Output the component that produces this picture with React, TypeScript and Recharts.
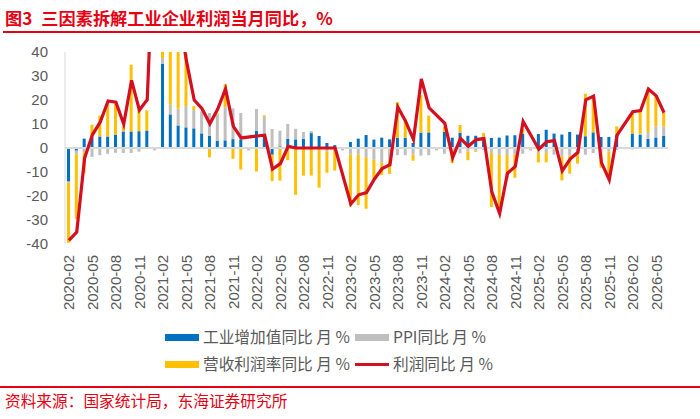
import {
  ComposedChart,
  Bar,
  Line,
  XAxis,
  YAxis,
  ReferenceLine,
} from "recharts";

const months = [
  "2020-02", "2020-03", "2020-04", "2020-05", "2020-06", "2020-07", "2020-08", "2020-09", "2020-10", "2020-11", "2020-12",
  "2021-01", "2021-02", "2021-03", "2021-04", "2021-05", "2021-06", "2021-07", "2021-08", "2021-09", "2021-10", "2021-11", "2021-12",
  "2022-01", "2022-02", "2022-03", "2022-04", "2022-05", "2022-06", "2022-07", "2022-08", "2022-09", "2022-10", "2022-11", "2022-12",
  "2023-01", "2023-02", "2023-03", "2023-04", "2023-05", "2023-06", "2023-07", "2023-08", "2023-09", "2023-10", "2023-11", "2023-12",
  "2024-01", "2024-02", "2024-03", "2024-04", "2024-05", "2024-06", "2024-07", "2024-08", "2024-09", "2024-10", "2024-11", "2024-12",
  "2025-01", "2025-02", "2025-03", "2025-04", "2025-05", "2025-06", "2025-07", "2025-08", "2025-09", "2025-10", "2025-11", "2025-12",
  "2026-01", "2026-02", "2026-03", "2026-04", "2026-05", "2026-06",
];

// 工业增加值同比
const valueAdded = [
  -14, -1.1, 3.9, 4.4, 4.8, 4.8, 5.6, 6.9, 6.9, 7.0, 7.3,
  null, 35, 14, 9.4, 8.6, 8.2, 6.1, 5.1, 3.0, 3.2, 3.7, 3.6,
  null, 7.2, 5.0, -2.8, 0.7, 3.8, 3.6, 3.8, 6.2, 5.0, 2.1, 1.2,
  null, 2.5, 3.9, 5.4, 3.5, 4.3, 3.6, 4.3, 4.3, 2.1, 6.4, 6.5,
  null, 6.8, 4.3, 6.4, 5.1, 5.1, 4.7, 4.2, 4.3, 5.2, 5.3, 5.9,
  null, 5.8, 7.6, 6.0, 5.6, 6.7, 5.6, 4.9, 6.5, 4.6, 4.6, 5.5,
  null, 6.0, 5.6, 3.8, 4.4, 5.1,
];

// PPI同比
const ppi = [
  -0.5, -1.5, -2, -3.7, -3, -2.4, -2, -2.1, -2.1, -1.5, -0.4,
  -1, 2.5, 4, 7, 8.8, 7.6, 9.2, 9.5, 10.9, 13.8, 12.8, 11,
  -1, 9, 8, 7.9, 6.5, 6.2, 4.4, 2.9, 0.9, -0.5, -1.3, -0.8,
  -1, -2.8, -2.8, -3.8, -4.9, -6.2, -5, -3, -3, -2.8, -3.2, -3,
  -1, -2.4, -0.8, -2.2, -1.4, -1.1, -0.8, -2.1, -2.8, -2.9, -2.7, -2.4,
  -1, -2.1, -2.1, -2.8, -3.5, -3.2, -2.8, -2.8, -2.1, -2, -1.5, -0.8,
  -0.5, -0.6, 0.3, 2.8, 4.6, 3.9,
];

// 营收利润率同比
const margin = [
  -25, -27, -8.5, 5.3, 8.7, 14, 12.8, 2.3, 27.8, 9, 8.4,
  null, 140, 74, 40, 22, 1.6, 0, -3.9, 0.5, 9.6, -4.5, -9,
  null, -9.8, 0.6, -11, -13.6, -5.1, -19.5, -11.5, -11.5, -16, -9, -8.6,
  null, -21.5, -21, -21.5, -8, -5, -5.8, 14.8, 7.6, -2.5, 15.7, 7,
  null, 2.1, -5.5, 3.2, -3.7, -0.5, 1.6, -22.5, -22, -9.7, -9.7, 2,
  null, -3.9, -3.9, 0, -10, -7.5, -3.7, 17.7, 14.8, -6.2, -11, 3.5,
  null, 8.6, 9.7, 17.8, 13.2, 5.6,
];

// 利润同比
const profit = [
  -38.5, -35, -4.3, 5.5, 10.8, 19.6, 19.1, 10, 28.2, 15.8, 20.1,
  null, 178.9, 92.3, 57, 36.4, 20, 16.4, 10.1, 16.2, 24.6, 9, 4.2,
  null, 5, 5.3, -8.8, -6.5, 0.7, 0, 0, 0, 0, 0, 0,
  null, -23.3, -19.5, -18.6, -13, -8.6, -7, 17.1, 11.1, 3.5, 28.8, 16.7,
  null, 10.3, -4, 4, 0.7, 3.5, 3.9, -18.3, -27.3, -10.5, -7.7, 11.1,
  null, -0.5, 2.6, 3.1, -9.5, -4.6, -1.8, 20.1, 21.6, -6.1, -13.3, 5.4,
  null, 15.1, 15.6, 24.6, 21.7, 14.7,
];

const yTicks = [-40, -30, -20, -10, 0, 10, 20, 30, 40];

const RED = "#e60012";
const LINE_RED = "#d40f1f";
const BLUE = "#0070c0";
const GREY = "#bfbfbf";
const YELLOW = "#ffc000";
const TEXT = "#595959";
const CJK = '"Noto Sans CJK SC", "Liberation Sans", sans-serif';
const NUM = '"Liberation Sans", Arial, sans-serif';

const chartData = months.map((m, i) => ({
  month: m,
  va: valueAdded[i],
  ppi: ppi[i],
  margin: margin[i],
  profit: profit[i],
}));

const XTick = ({ x, y, payload }: any) => (
  <text
    x={x}
    y={y + 3}
    transform={`rotate(-90 ${x} ${y + 3})`}
    textAnchor="end"
    dominantBaseline="central"
    fill={TEXT}
    fontSize={15}
    fontFamily={NUM}
  >
    {payload.value}
  </text>
);

const legendRows = [
  [
    { name: "工业增加值同比 月 %", color: BLUE, type: "bar" },
    { name: "PPI同比 月 %", color: GREY, type: "bar" },
  ],
  [
    { name: "营收利润率同比 月 %", color: YELLOW, type: "bar" },
    { name: "利润同比 月 %", color: LINE_RED, type: "line" },
  ],
];

export default function App() {
  return (
    <div
      style={{
        position: "relative",
        width: 700,
        height: 419,
        background: "#fff",
        overflow: "hidden",
      }}
    >
      <style>{"body{margin:0}"}</style>
      <div
        style={{
          position: "absolute",
          left: 5,
          top: 6,
          color: RED,
          fontFamily: CJK,
          fontWeight: 700,
          fontSize: 17.2,
          lineHeight: "24px",
          whiteSpace: "nowrap",
        }}
      >
        <span style={{ marginRight: 9 }}>图3</span>三因素拆解工业企业利润当月同比，%
      </div>
      <div
        style={{
          position: "absolute",
          left: 3,
          right: 0,
          top: 31,
          height: 2,
          background: RED,
        }}
      />
      <div style={{ position: "absolute", left: 0, top: 0 }}>
        <ComposedChart
          width={700}
          height={320}
          data={chartData}
          stackOffset="sign"
          margin={{ top: 52, right: 32, left: 5, bottom: 6 }}
        >
          <XAxis
            dataKey="month"
            interval={2}
            tick={<XTick />}
            tickLine={false}
            axisLine={false}
            height={70}
          />
          <YAxis
            domain={[-40, 40]}
            ticks={yTicks}
            allowDataOverflow
            width={60}
            tickLine={false}
            tickMargin={11}
            axisLine={{ stroke: "#d9d9d9" }}
            tick={{ fill: TEXT, fontSize: 15, fontFamily: NUM }}
          />
          <ReferenceLine y={0} stroke="#d9d9d9" strokeWidth={2} />
          <Bar dataKey="va" stackId="a" fill={BLUE} barSize={3} isAnimationActive={false} />
          <Bar dataKey="ppi" stackId="a" fill={GREY} barSize={3} isAnimationActive={false} />
          <Bar dataKey="margin" stackId="a" fill={YELLOW} barSize={3} isAnimationActive={false} />
          <Line
            dataKey="profit"
            type="linear"
            stroke={LINE_RED}
            strokeWidth={3.2}
            dot={false}
            connectNulls
            isAnimationActive={false}
          />
        </ComposedChart>
      </div>
      {legendRows.map((row, r) =>
        row.map((item, c) => {
          const cy = r === 0 ? 337 : 364;
          const sx = c === 0 ? 165 : 355;
          return (
            <div key={item.name}>
              <div
                style={{
                  position: "absolute",
                  left: sx,
                  top: item.type === "line" ? cy - 1.5 : cy - 3.5,
                  width: 34,
                  height: item.type === "line" ? 3 : 7,
                  background: item.color,
                }}
              />
              <div
                style={{
                  position: "absolute",
                  left: sx + 38,
                  top: cy - 11,
                  lineHeight: "22px",
                  fontSize: 15.7,
                  fontFamily: CJK,
                  color: TEXT,
                  whiteSpace: "pre",
                }}
              >
                {item.name}
              </div>
            </div>
          );
        })
      )}
      <div
        style={{
          position: "absolute",
          left: 0,
          right: 0,
          top: 386,
          height: 1.5,
          background: RED,
        }}
      />
      <div
        style={{
          position: "absolute",
          left: 5,
          top: 390,
          lineHeight: "22px",
          fontSize: 15.7,
          fontFamily: CJK,
          color: RED,
          whiteSpace: "nowrap",
        }}
      >
        资料来源：国家统计局，东海证券研究所
      </div>
    </div>
  );
}
